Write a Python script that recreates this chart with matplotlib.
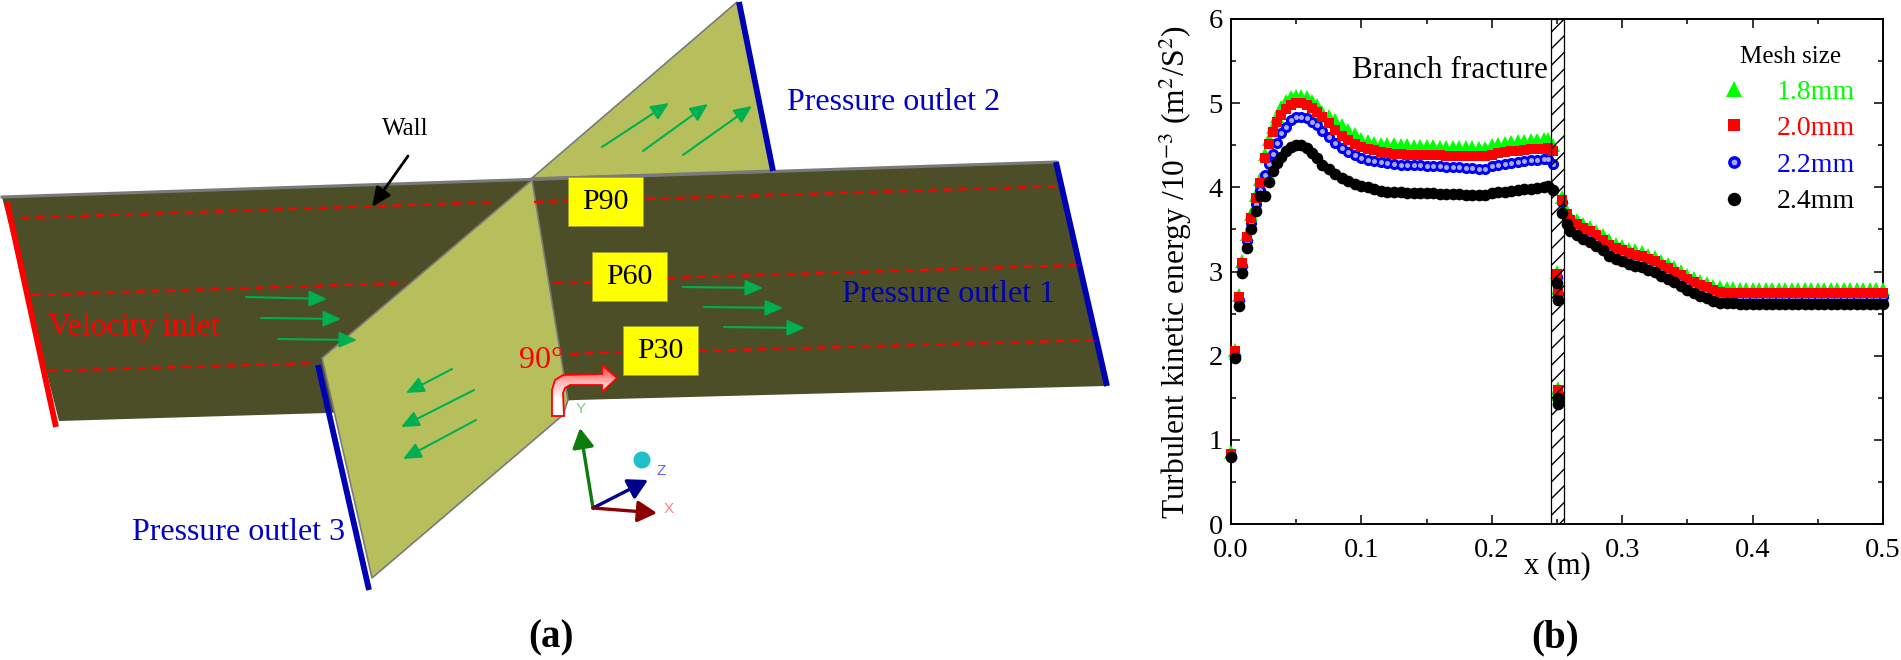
# -*- coding: UTF-8 -*-
import numpy as np
import matplotlib
matplotlib.use('Agg')
import matplotlib.pyplot as plt
from matplotlib.patches import Polygon, Rectangle, Circle, FancyArrowPatch
from matplotlib.colors import LinearSegmentedColormap
from matplotlib.legend_handler import HandlerTuple

plt.rcParams['font.family'] = ['Liberation Serif', 'DejaVu Serif']
plt.rcParams['mathtext.fontset'] = 'stix'
plt.rcParams['hatch.linewidth'] = 1.0

# (b) turbulent kinetic energy vs x
x_pos = [0.0, 0.003, 0.0064, 0.0087, 0.0125, 0.0156, 0.019, 0.0225, 0.026, 0.029, 0.032, 0.035,
         0.0385, 0.042, 0.046, 0.05, 0.054, 0.058, 0.062, 0.066, 0.07, 0.075, 0.08, 0.085, 0.09,
         0.095, 0.1, 0.105, 0.11, 0.115, 0.12, 0.125, 0.13, 0.135, 0.14, 0.145, 0.15, 0.155, 0.16,
         0.165, 0.17, 0.175, 0.18, 0.185, 0.19, 0.195, 0.2, 0.205, 0.21, 0.215, 0.22, 0.225, 0.23,
         0.235, 0.24, 0.2434, 0.2472,
         0.2497, 0.2508, 0.2505, 0.2505,
         0.2536, 0.2574, 0.26, 0.265, 0.27, 0.275, 0.28, 0.285, 0.29, 0.295, 0.3, 0.305, 0.31,
         0.315, 0.32, 0.325, 0.33, 0.335, 0.34, 0.345, 0.35, 0.355, 0.36, 0.365, 0.37, 0.375,
         0.38, 0.385, 0.39, 0.395, 0.4, 0.405, 0.41, 0.415, 0.42, 0.425, 0.43, 0.435, 0.44, 0.445,
         0.45, 0.455, 0.46, 0.465, 0.47, 0.475, 0.48, 0.485, 0.49, 0.495, 0.5]

mesh_18 = [0.85, 2.07, 2.72, 3.13, 3.45, 3.68, 3.91, 4.10, 4.40, 4.58, 4.72, 4.85,
           4.95, 5.02, 5.07, 5.09, 5.09, 5.07, 5.03, 4.98, 4.90, 4.85, 4.80, 4.74, 4.68,
           4.63, 4.58, 4.55, 4.53, 4.52, 4.51, 4.51, 4.50, 4.50, 4.49, 4.49, 4.49, 4.49, 4.48,
           4.48, 4.48, 4.48, 4.48, 4.48, 4.47, 4.47, 4.50, 4.52, 4.53, 4.54, 4.55, 4.55, 4.56,
           4.56, 4.57, 4.58, 4.50,
           3.00, 2.80, 1.62, 1.55,
           3.89, 3.72, 3.66, 3.61, 3.57, 3.53, 3.48, 3.43, 3.37, 3.33, 3.30, 3.27, 3.25,
           3.23, 3.20, 3.17, 3.13, 3.09, 3.05, 3.01, 2.96, 2.92, 2.89, 2.86, 2.83, 2.81,
           2.80, 2.80, 2.79, 2.79, 2.79, 2.79, 2.79, 2.79, 2.79, 2.79, 2.79, 2.79, 2.79, 2.79,
           2.79, 2.79, 2.79, 2.79, 2.79, 2.79, 2.79, 2.79, 2.79, 2.79, 2.79]
mesh_20 = [0.83, 2.05, 2.70, 3.10, 3.41, 3.64, 3.87, 4.05, 4.35, 4.52, 4.66, 4.78,
           4.86, 4.93, 4.98, 5.00, 5.00, 4.98, 4.94, 4.90, 4.83, 4.76, 4.68, 4.61, 4.56,
           4.51, 4.48, 4.46, 4.44, 4.42, 4.41, 4.40, 4.40, 4.39, 4.39, 4.38, 4.38, 4.38, 4.38,
           4.37, 4.37, 4.37, 4.37, 4.37, 4.37, 4.37, 4.39, 4.41, 4.42, 4.43, 4.43, 4.44, 4.45,
           4.45, 4.46, 4.47, 4.43,
           2.97, 2.76, 1.59, 1.52,
           3.85, 3.68, 3.61, 3.56, 3.52, 3.48, 3.43, 3.38, 3.32, 3.28, 3.25, 3.22, 3.20,
           3.18, 3.15, 3.12, 3.08, 3.04, 3.00, 2.96, 2.91, 2.87, 2.84, 2.81, 2.78, 2.76,
           2.75, 2.75, 2.74, 2.74, 2.74, 2.74, 2.74, 2.74, 2.74, 2.74, 2.74, 2.74, 2.74, 2.74,
           2.74, 2.74, 2.74, 2.74, 2.74, 2.74, 2.74, 2.74, 2.74, 2.74, 2.74]
mesh_22 = [0.81, 2.00, 2.66, 3.07, 3.36, 3.58, 3.80, 3.97, 4.15, 4.28, 4.40, 4.53,
           4.64, 4.72, 4.80, 4.84, 4.84, 4.82, 4.78, 4.74, 4.67, 4.60, 4.53, 4.47, 4.42,
           4.38, 4.35, 4.33, 4.31, 4.30, 4.29, 4.28, 4.27, 4.27, 4.26, 4.26, 4.25, 4.25, 4.25,
           4.24, 4.24, 4.24, 4.23, 4.23, 4.22, 4.22, 4.25, 4.27, 4.28, 4.29, 4.30, 4.31, 4.32,
           4.33, 4.34, 4.34, 4.28,
           2.93, 2.73, 1.55, 1.47,
           3.82, 3.63, 3.57, 3.52, 3.48, 3.44, 3.39, 3.34, 3.28, 3.24, 3.21, 3.18, 3.16,
           3.14, 3.11, 3.08, 3.04, 3.00, 2.96, 2.92, 2.87, 2.83, 2.80, 2.77, 2.74, 2.72,
           2.71, 2.71, 2.70, 2.70, 2.70, 2.70, 2.70, 2.70, 2.70, 2.70, 2.70, 2.70, 2.70, 2.70,
           2.70, 2.70, 2.70, 2.70, 2.70, 2.70, 2.70, 2.70, 2.70, 2.70, 2.70]
mesh_24 = [0.80, 1.97, 2.59, 2.98, 3.28, 3.50, 3.72, 3.90, 3.90, 4.06, 4.19, 4.29,
           4.36, 4.43, 4.48, 4.50, 4.50, 4.47, 4.41, 4.35, 4.27, 4.22, 4.16, 4.11, 4.07,
           4.04, 4.02, 4.00, 3.98, 3.96, 3.95, 3.94, 3.94, 3.93, 3.93, 3.93, 3.93, 3.93, 3.92,
           3.92, 3.92, 3.92, 3.91, 3.91, 3.91, 3.91, 3.93, 3.94, 3.95, 3.96, 3.97, 3.98, 3.98,
           3.99, 4.00, 4.01, 3.97,
           2.86, 2.66, 1.50, 1.43,
           3.70, 3.57, 3.48, 3.43, 3.39, 3.35, 3.30, 3.25, 3.19, 3.15, 3.12, 3.09, 3.07,
           3.05, 3.02, 2.99, 2.95, 2.91, 2.87, 2.83, 2.78, 2.74, 2.71, 2.68, 2.65, 2.63,
           2.62, 2.62, 2.61, 2.61, 2.61, 2.61, 2.61, 2.61, 2.61, 2.61, 2.61, 2.61, 2.61, 2.61,
           2.61, 2.61, 2.61, 2.61, 2.61, 2.61, 2.61, 2.61, 2.61, 2.61, 2.61]

x_ticks = [0.0, 0.1, 0.2, 0.3, 0.4, 0.5]
y_ticks = [0, 1, 2, 3, 4, 5, 6]
mesh_labels = ['1.8mm', '2.0mm', '2.2mm', '2.4mm']

# (a) geometry sketch, in image pixels
duct = [(2, 197), (532, 179), (1056, 162), (1105, 386), (576, 400), (327, 413), (59, 421)]
branch_low = [(322, 358), (532, 180), (568, 400), (563, 415), (372, 578)]
branch_up = [(532, 178), (737, 2), (773, 172)]
bent_arrow = [(552, 416), (552, 390), (555, 380), (563, 375), (602, 374), (602, 365), (617, 378),
              (602, 392), (602, 385), (570, 385), (565, 388), (563, 393), (564, 416)]
dashes = [((21, 218), (498, 202)), ((534, 202), (568, 201)), ((646, 199), (1064, 186)),
          ((32, 295), (405, 283)), ((554, 283), (592, 282)), ((667, 278), (1078, 265)),
          ((48, 371), (314, 363)), ((570, 354), (622, 352)), ((698, 351), (1096, 340))]
flow_arrows = [((246, 297), (327, 299)), ((261, 318), (341, 319)), ((278, 339), (357, 340)),
               ((683, 287), (763, 288)), ((704, 307), (783, 308)), ((724, 327), (805, 328)),
               ((602, 147), (669, 103)), ((643, 151), (708, 104)), ((683, 155), (752, 106)),
               ((452, 369), (406, 393)), ((474, 390), (401, 427)), ((476, 420), (403, 459))]
boundaries = [((7, 202), (56, 427), 'red'), ((739, 2), (773, 171), '#0000b4'),
              ((1056, 162), (1107, 386), '#0000b4'), ((318, 365), (369, 590), '#0000b4')]
probe_boxes = [('P90', 568, 177), ('P60', 592, 252), ('P30', 623, 326)]
sketch_labels = [('Wall', 382, 129, 'black', 18), ('Velocity inlet', 48, 327, 'red', 23),
                 ('Pressure outlet 1', 842, 295, '#0000b4', 23), ('Pressure outlet 2', 787, 103, '#0000c8', 23),
                 ('Pressure outlet 3', 132, 532, '#0000c8', 23), ('90°', 519, 360, 'red', 23)]

fig = plt.figure(figsize=(19.01, 6.6), dpi=100)

sk = fig.add_axes([0, 0, 1, 1])
sk.set_axis_off()

sk.add_patch(Polygon(duct, closed=True, fc='#4b4e26', ec='none', zorder=1))
sk.plot([2, 1056], [197, 162], color='#7a7a7a', lw=2.2, zorder=2)
sk.add_patch(Polygon(branch_up, closed=True, fc='#b7bf5d', ec='#7a7a7a', lw=1.2, zorder=3))
sk.add_patch(Polygon(branch_low, closed=True, fc='#b7bf5d', ec='#7a7a7a', lw=1.2, zorder=3))
sk.plot([532, 773], [179, 171], color='#7a7a7a', lw=2.2, zorder=4)

for a, b in dashes:
    sk.plot([a[0], b[0]], [a[1], b[1]], color='red', lw=1.7, ls=(0, (3.8, 2.5)), zorder=5)
for a, b, c in boundaries:
    sk.plot([a[0], b[0]], [a[1], b[1]], color=c, lw=4.2, solid_capstyle='butt', zorder=6)
for a, b in flow_arrows:
    sk.add_patch(FancyArrowPatch(a, b, arrowstyle='-|>,head_length=0.9,head_width=0.4', mutation_scale=12,
                                 shrinkA=0, shrinkB=0, lw=1.5, color='#00b050', zorder=6))
sk.add_patch(FancyArrowPatch((408, 156), (372, 207), arrowstyle='-|>,head_length=0.9,head_width=0.4',
                             mutation_scale=13, shrinkA=0, shrinkB=0, lw=2, color='black', zorder=7))

for name, bx, by in probe_boxes:
    sk.add_patch(Rectangle((bx, by), 75, 49, fc='#ffff00', ec='#a0a030', lw=0.6, zorder=7))
    sk.text(bx + 37.5, by + 25, name, fontsize=21.5, ha='center', va='center', color='black', zorder=8)

for txt, tx, ty, col, fs in sketch_labels:
    sk.text(tx, ty, txt, fontsize=fs, color=col, ha='left', va='center', zorder=8)

# bent red arrow, white towards the inside
grad = LinearSegmentedColormap.from_list('bend', ['#ff3030', '#ffb8b8', '#ffffff', '#ffffff'])
img = sk.imshow(np.linspace(0, 1, 64).reshape(-1, 1), cmap=grad, extent=(552, 617, 416, 365),
                aspect='auto', zorder=8)
bent = Polygon(bent_arrow, closed=True, fc='none', ec='red', lw=1.3, zorder=9)
sk.add_patch(bent)
img.set_clip_path(bent)

# coordinate triad
for tip, col in [((580, 428), '#0a7d0a'), ((648, 480), '#00008b'), ((657, 513), '#8b0000')]:
    sk.add_patch(FancyArrowPatch((593, 508), tip, arrowstyle='-|>,head_length=0.9,head_width=0.5',
                                 mutation_scale=13, shrinkA=0, shrinkB=0, lw=2.4, color=col, zorder=7))
sk.add_patch(Circle((642, 460), 8.5, fc='#20c0c8', ec='none', zorder=7))
sk.text(581, 409, 'Y', fontsize=11, color='#80d080', family='Liberation Sans', ha='center', va='center')
sk.text(661, 471, 'Z', fontsize=11, color='#6060ff', family='Liberation Sans', ha='center', va='center')
sk.text(669, 509, 'X', fontsize=11, color='#ff8080', family='Liberation Sans', ha='center', va='center')

sk.text(551, 638, '(a)', fontsize=28, fontweight='bold', ha='center', va='center')
sk.text(1555, 638, '(b)', fontsize=28, fontweight='bold', ha='center', va='center')

sk.set_xlim(0, 1901)
sk.set_ylim(660, 0)

# chart
ax = fig.add_axes([1231 / 1901, (660 - 524) / 660, 652 / 1901, 505 / 660])
ax.patch.set_alpha(0)

h1, = ax.plot(x_pos, mesh_18, '^', color='#00ff00', ms=9.5, mew=0, clip_on=False, zorder=3)
h3, = ax.plot(x_pos, mesh_22, 'o', color='#0000ff', ms=8, mew=0, clip_on=False, zorder=4)
h3b, = ax.plot(x_pos, mesh_22, 'o', color='#a8a8f8', ms=3.6, mew=0, clip_on=False, zorder=4.1)
h2, = ax.plot(x_pos, mesh_20, 's', color='#ff0000', ms=7.8, mew=0, clip_on=False, zorder=5)
ax.axvspan(0.2454, 0.2553, fc='none', ec='black', lw=0.9, hatch='//', zorder=6)
h4, = ax.plot(x_pos, mesh_24, 'o', color='black', ms=8.4, mew=0, clip_on=False, zorder=7)

ax.set_xlim(0, 0.5)
ax.set_ylim(0, 6)
ax.set_xticks(x_ticks)
ax.set_yticks(y_ticks)
ax.set_xticks(np.arange(0.05, 0.5, 0.1), minor=True)
ax.set_yticks(np.arange(0.5, 6, 1), minor=True)
ax.tick_params(which='major', direction='in', top=True, right=True, length=6.5, width=1.1, labelsize=20.5)
ax.tick_params(which='minor', direction='in', top=True, right=True, length=3.5, width=1.1)
ax.tick_params(axis='x', which='major', pad=10)
ax.tick_params(axis='y', which='major', pad=6)
for s in ax.spines.values():
    s.set_linewidth(1.4)

sk.text(1175, 272, 'Turbulent kinetic energy /10$^{-3}$ (m$^2$/S$^2$)', fontsize=22.7,
        rotation=90, ha='center', va='center')
sk.text(1557, 566, 'x (m)', fontsize=22, ha='center', va='center')
sk.text(1352, 71, 'Branch fracture', fontsize=22.5, ha='left', va='center')

leg = ax.legend([h1, h2, (h3, h3b), h4], mesh_labels, title='Mesh size', frameon=False, loc='upper left',
                bbox_to_anchor=((1706 - 1231) / 652, (524 - 46) / 505), borderaxespad=0, borderpad=0,
                fontsize=20, title_fontsize=18, handlelength=2, handletextpad=0.55, labelspacing=0.4,
                markerscale=1.15, labelcolor=['#00ff00', '#ff0000', '#0000ff', 'black'],
                handler_map={tuple: HandlerTuple(ndivide=1, pad=0)})
leg.get_title().set_position((10, 0))

fig.savefig('out.png', dpi=100)
